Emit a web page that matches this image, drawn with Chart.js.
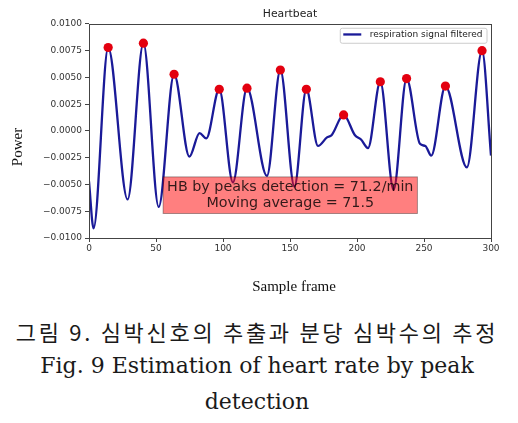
<!DOCTYPE html>
<html>
<head>
<meta charset="utf-8">
<script src="https://cdn.jsdelivr.net/npm/chart.js@4.4.0/dist/chart.umd.min.js"></script>
<style>
body{margin:0;background:#fff;}
#wrap{position:relative;width:518px;height:423px;overflow:hidden;}
#chart{position:absolute;left:0;top:0;}
.cap{position:absolute;left:0;width:514px;text-align:center;color:#1a1a1a;white-space:nowrap;}
#capKo{top:320px;font-family:'Noto Sans CJK KR';font-size:22px;line-height:22px;letter-spacing:2.7px;}
#capEn1{top:355px;font-family:'DejaVu Serif';font-size:22px;line-height:22px;}
#capEn2{top:391px;font-family:'DejaVu Serif';font-size:22px;line-height:22px;}
</style>
</head>
<body>
<div id="wrap">
<canvas id="chart" width="518" height="300"></canvas>
<div class="cap" id="capKo">그림 9. 심박신호의 추출과 분당 심박수의 추정</div>
<div class="cap" id="capEn1">Fig. 9 Estimation of heart rate by peak</div>
<div class="cap" id="capEn2">detection</div>
</div>
<script>
//sample frame positions of the filtered signal
var sigX=[0,3.4,14.3,28.8,40.6,52,63.5,74.9,82.5,87.5,97.2,107.4,117.9,132.8,142.8,153.3,162.2,170.9,177.6,181,190,198.5,203,208.2,217.4,227.3,237,247,251,255.4,266,282,293.3,300];
//signal power at those frames
var sigY=[-0.0047,-0.0091,0.0078,-0.0064,0.0082,-0.0071,0.0053,-0.0024,-0.0002,-0.0007,0.0039,-0.0048,0.0040,-0.0042,0.0057,-0.0052,0.0039,-0.0014,-0.0006,-0.0004,0.0015,-0.0004,-0.0008,-0.0016,0.0046,-0.0055,0.0049,-0.0012,-0.0014,-0.0023,0.0042,-0.0034,0.0075,-0.0023];
//detected peaks (red dots)
var peakX=[14.3,40.6,63.5,97.2,117.9,142.8,162.2,190,217.4,237,266,293.3];
var peakY=[0.0078,0.0082,0.0053,0.0039,0.0040,0.0057,0.0039,0.0015,0.0046,0.0049,0.0042,0.0075];
//axis ranges and tick steps
var xMin=0,xMax=300,xStep=50;
var yMin=-0.01,yMax=0.01,yStep=0.0025;
//texts
var chartTitle="Heartbeat";
var legendLabel="respiration signal filtered";
var xTitle="Sample frame";
var yTitle="Power";
var hbLines=["HB by peaks detection = 71.2/min","Moving average = 71.5"];
//where the HB text box sits (data coords of its centre)
var hbX=150.2, hbY=-0.0060;

var lineColor="#1a1a98";
var dotColor="#e3000f";

//draws the spines, the HB box, the legend and the axis titles
var extrasPlugin={
    id:"extras",
    afterDatasetsDraw:function(chart){
        var ctx=chart.ctx;
        var ca=chart.chartArea;
        ctx.save();
        //frame round the plot
        ctx.strokeStyle="#444";
        ctx.lineWidth=1;
        ctx.strokeRect(Math.round(ca.left)+0.5,Math.round(ca.top)+0.5,Math.round(ca.right-ca.left),Math.round(ca.bottom-ca.top));

        //HB text box
        ctx.font="14.3px 'DejaVu Sans'";
        var tw=0;
        for(var i=0;i<hbLines.length;i++){
            tw=Math.max(tw,ctx.measureText(hbLines[i]).width);
        }
        var lh=15.8;
        var cx=chart.scales.x.getPixelForValue(hbX);
        var cy=chart.scales.y.getPixelForValue(hbY);
        var bw=tw+8, bh=lh*hbLines.length+5;
        ctx.fillStyle="rgba(255,0,0,0.5)";
        ctx.fillRect(cx-bw/2,cy-bh/2,bw,bh);
        ctx.strokeStyle="rgba(0,0,0,0.35)";
        ctx.strokeRect(cx-bw/2,cy-bh/2,bw,bh);
        ctx.fillStyle="rgba(0,0,0,0.8)";
        ctx.textAlign="center";
        ctx.textBaseline="middle";
        for(var i=0;i<hbLines.length;i++){
            ctx.fillText(hbLines[i],cx,cy-(hbLines.length-1)*lh/2+i*lh);
        }

        //legend in the upper right corner
        ctx.font="9px 'DejaVu Sans'";
        var lw=ctx.measureText(legendLabel).width;
        var w=lw+34, h=15;
        var x=ca.right-4-w, y=ca.top+4.3;
        ctx.beginPath();
        ctx.roundRect(x,y,w,h,2);
        ctx.fillStyle="rgba(255,255,255,0.85)";
        ctx.fill();
        ctx.strokeStyle="#cccccc";
        ctx.lineWidth=1;
        ctx.stroke();
        ctx.beginPath();
        ctx.moveTo(x+3,y+6.2);
        ctx.lineTo(x+21,y+6.2);
        ctx.strokeStyle=lineColor;
        ctx.lineWidth=2.3;
        ctx.stroke();
        ctx.fillStyle="#222";
        ctx.textAlign="left";
        ctx.fillText(legendLabel,x+29.5,y+6.5);

        //axis titles
        ctx.font="15px 'Liberation Serif'";
        ctx.fillStyle="#111";
        ctx.textAlign="center";
        ctx.fillText(xTitle,(ca.left+ca.right)/2+4,287);
        ctx.translate(18,(ca.top+ca.bottom)/2+16);
        ctx.rotate(-Math.PI/2);
        ctx.fillText(yTitle,0,0);
        ctx.restore();
    }
};

function fmtY(v){
    if(Math.abs(v)<1e-9){return "0.0000";}
    return v.toFixed(4).replace("-","\u2212");
}

var sigData=[];
for(var i=0;i<sigX.length;i++){sigData.push({x:sigX[i],y:sigY[i]});}
var peakData=[];
for(var i=0;i<peakX.length;i++){peakData.push({x:peakX[i],y:peakY[i]});}

new Chart(document.getElementById("chart"),{
    type:'line',
    data:{
        datasets:[
            {
                type:'scatter',
                label:'peaks',
                data:peakData,
                pointRadius:4.6,
                pointBackgroundColor:dotColor,
                pointBorderColor:dotColor,
                pointBorderWidth:0,
                order:0
            },
            {
                label:legendLabel,
                data:sigData,
                borderColor:lineColor,
                borderWidth:2.3,
                pointRadius:0,
                fill:false,
                cubicInterpolationMode:'monotone',
                order:1
            }
        ]
    },
    options:{
        responsive:false,
        animation:false,
        layout:{padding:{left:0,right:27,top:0,bottom:0}},
        plugins:{
            legend:{display:false},
            tooltip:{enabled:false},
            title:{
                display:true,
                text:chartTitle,
                fullSize:false,
                color:'#222',
                font:{family:'DejaVu Sans',size:10.8,weight:'normal'},
                padding:{top:8,bottom:3}
            }
        },
        scales:{
            x:{
                type:'linear',
                min:xMin,
                max:xMax,
                ticks:{stepSize:xStep,color:'#333',font:{family:'DejaVu Sans',size:9},padding:1,maxRotation:0},
                grid:{drawOnChartArea:false,tickLength:4,color:'#444'},
                border:{display:false},
                afterFit:function(s){s.height=62;}
            },
            y:{
                min:yMin,
                max:yMax,
                ticks:{stepSize:yStep,color:'#333',font:{family:'DejaVu Sans',size:9},padding:3,callback:fmtY},
                grid:{drawOnChartArea:false,tickLength:4,color:'#444'},
                border:{display:false},
                afterFit:function(s){s.width=89;}
            }
        }
    },
    plugins:[extrasPlugin]
});
</script>
</body>
</html>
